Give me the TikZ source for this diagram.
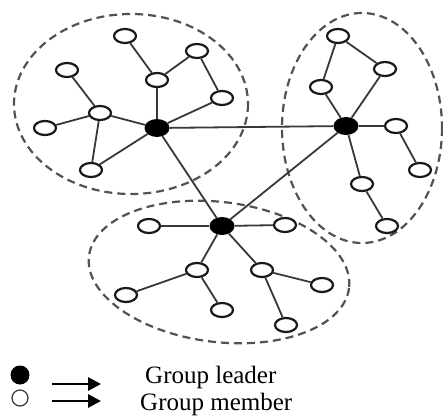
\documentclass[tikz,border=0pt]{standalone}
\usepackage{fontspec}
\setmainfont{Liberation Serif}
\usetikzlibrary{arrows.meta, shapes.geometric}

\tikzset{
  member/.style={ellipse, draw=black!90, line width=2.2pt, fill=white,
    minimum width=22pt, minimum height=14pt, inner sep=0pt},
  leader/.style={ellipse, fill=black, minimum width=25pt,
    minimum height=18pt, inner sep=0pt},
  link/.style={line width=1.8pt, black!78},
  cluster/.style={dashed, dash pattern=on 8pt off 5pt, line width=2.2pt, black!68}
}

\begin{document}
\begin{tikzpicture}[x=1pt, y=-1pt, >=Stealth]
  \useasboundingbox (0,0) rectangle (443,417);
  % Clusters
  \draw[cluster] (131,104) ellipse [x radius=117, y radius=90];
  \draw[cluster] (362,128) ellipse [x radius=80, y radius=115];
  \draw[cluster, rotate around={-7:(219,272)}] (219,272) ellipse [x radius=131, y radius=70];
  % Leaders
  \node[leader] (ldA) at (157,128) {};
  \node[leader] (ldB) at (346,126) {};
  \node[leader] (ldC) at (222,226) {};
  % Group A members
  \node[member] (a1) at (125,36) {};
  \node[member] (a2) at (197,51) {};
  \node[member] (a3) at (67,70) {};
  \node[member] (a4) at (157,80) {};
  \node[member] (a5) at (222,98) {};
  \node[member] (a6) at (100,113) {};
  \node[member] (a7) at (45,128) {};
  \node[member] (a8) at (91,170) {};
  % Group B members
  \node[member] (b1) at (338,36) {};
  \node[member] (b2) at (385,69) {};
  \node[member] (b3) at (321,87) {};
  \node[member] (b4) at (396,126) {};
  \node[member] (b5) at (420,170) {};
  \node[member] (b6) at (362,184) {};
  \node[member] (b7) at (387,226) {};
  % Group C members
  \node[member] (c1) at (149,226) {};
  \node[member] (c2) at (285,225) {};
  \node[member] (c3) at (197,270) {};
  \node[member] (c4) at (262,270) {};
  \node[member] (c5) at (322,285) {};
  \node[member] (c6) at (126,295) {};
  \node[member] (c7) at (222,310) {};
  \node[member] (c8) at (286,325) {};
  % Leader backbone
  \draw[link] (ldA) -- (ldB);
  \draw[link] (ldA) -- (ldC);
  \draw[link] (ldC) -- (ldB);
  % Group A links
  \draw[link] (a1) -- (a4);
  \draw[link] (a4) -- (a2);
  \draw[link] (a2) -- (a5);
  \draw[link] (a4) -- (ldA);
  \draw[link] (a5) -- (ldA);
  \draw[link] (a6) -- (ldA);
  \draw[link] (a8) -- (ldA);
  \draw[link] (a6) -- (a3);
  \draw[link] (a6) -- (a7);
  \draw[link] (a6) -- (a8);
  % Group B links
  \draw[link] (b1) -- (b3);
  \draw[link] (b1) -- (b2);
  \draw[link] (b2) -- (ldB);
  \draw[link] (b3) -- (ldB);
  \draw[link] (ldB) -- (b4);
  \draw[link] (b4) -- (b5);
  \draw[link] (ldB) -- (b6);
  \draw[link] (b6) -- (b7);
  % Group C links
  \draw[link] (c1) -- (ldC);
  \draw[link] (ldC) -- (c2);
  \draw[link] (ldC) -- (c3);
  \draw[link] (ldC) -- (c4);
  \draw[link] (c3) -- (c6);
  \draw[link] (c3) -- (c7);
  \draw[link] (c4) -- (c5);
  \draw[link] (c4) -- (c8);
  % Legend
  \node[circle, fill=black, minimum size=19pt, inner sep=0pt] (keyL) at (20,375) {};
  \node[circle, draw=black!80, line width=1.2pt, minimum size=16pt, inner sep=0pt] (keyM) at (20,398) {};
  \coordinate (arLs) at (52,384);
  \coordinate (arLe) at (101,384);
  \coordinate (arMs) at (52,401);
  \coordinate (arMe) at (101,401);
  \draw[line width=2.8pt, -{Triangle[length=13pt, width=13pt]}] (arLs) -- (arLe);
  \draw[line width=2.8pt, -{Triangle[length=13pt, width=13pt]}] (arMs) -- (arMe);
  \node[anchor=base west, font=\fontsize{25}{27}\selectfont, inner sep=0pt] (txL) at (145,383) {Group leader};
  \node[anchor=base west, font=\fontsize{25}{27}\selectfont, inner sep=0pt] (txM) at (140,410) {Group member};
\end{tikzpicture}
\end{document}
